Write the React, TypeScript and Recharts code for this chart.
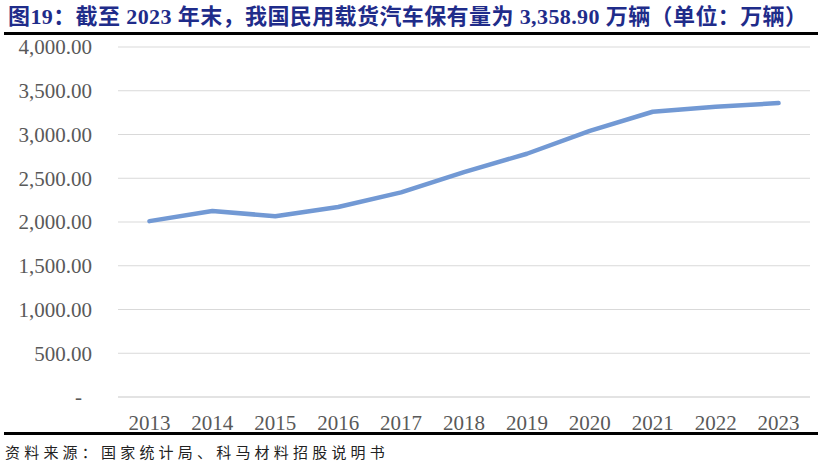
import { LineChart, Line, XAxis, YAxis, CartesianGrid } from 'recharts';

const years = ['2013', '2014', '2015', '2016', '2017', '2018', '2019', '2020', '2021', '2022', '2023'];
const trucks = [2010.0, 2125.5, 2066.0, 2172.0, 2338.5, 2570.0, 2780.0, 3042.0, 3260.0, 3318.0, 3358.9];
const yTicks = [0, 500, 1000, 1500, 2000, 2500, 3000, 3500, 4000];

const TITLE = '图19：截至 2023 年末，我国民用载货汽车保有量为 3,358.90 万辆（单位：万辆）';
const SOURCE = '资料来源：国家统计局、科马材料招股说明书';

const data = years.map((year, i) => ({ year, value: trucks[i] }));

const LABEL_FONT = '"Liberation Serif", "Times New Roman", serif';

function YTick(props: any) {
  const { x, y, payload } = props;
  const v = payload.value as number;
  const label = v === 0 ? '-' : v.toLocaleString('en-US', { minimumFractionDigits: 2, maximumFractionDigits: 2 });
  return (
    <text
      x={v === 0 ? x - 10 : x}
      y={y}
      dy="0.35em"
      textAnchor="end"
      fill="#595959"
      fontSize={21}
      fontFamily={LABEL_FONT}
    >
      {label}
    </text>
  );
}

export default function App() {
  return (
    <div style={{ position: 'relative', width: 826, height: 472, background: '#fff', overflow: 'hidden' }}>
      <style>{'body{margin:0}'}</style>
      {/* titre */}
      <div
        style={{
          position: 'absolute',
          left: 8,
          top: 6,
          fontSize: 22,
          lineHeight: '22px',
          fontWeight: 'bold',
          letterSpacing: 0.4,
          color: '#1f2c8a',
          fontFamily: '"Liberation Serif", "Noto Sans CJK SC", serif',
          whiteSpace: 'nowrap',
        }}
      >
        {TITLE}
      </div>
      <div style={{ position: 'absolute', left: 4, top: 32, width: 814, height: 2.5, background: '#000' }} />

      <div style={{ position: 'absolute', left: 0, top: 0 }}>
        <LineChart width={826} height={442} data={data} margin={{ top: 47, right: 16, left: 0, bottom: 9 }}>
          <CartesianGrid vertical={false} stroke="#d9d9d9" strokeWidth={1.2} />
          <XAxis
            dataKey="year"
            scale="band"
            height={36}
            tickLine={false}
            axisLine={{ stroke: '#d9d9d9', strokeWidth: 1.2 }}
            tickMargin={12}
            tick={{ fill: '#595959', fontSize: 21, fontFamily: LABEL_FONT }}
            interval={0}
          />
          <YAxis
            width={118}
            domain={[0, 4000]}
            ticks={yTicks}
            axisLine={false}
            tickLine={false}
            tickMargin={20}
            tick={<YTick />}
            interval={0}
          />
          <Line
            type="linear"
            dataKey="value"
            stroke="#7299d4"
            strokeWidth={4.5}
            strokeLinecap="round"
            strokeLinejoin="round"
            dot={false}
            isAnimationActive={false}
          />
        </LineChart>
      </div>

      <div style={{ position: 'absolute', left: 4, top: 432, width: 814, height: 2.5, background: '#000' }} />
      {/* source */}
      <div
        style={{
          position: 'absolute',
          left: 5,
          top: 443,
          fontSize: 15,
          lineHeight: '18px',
          letterSpacing: 4.2,
          color: '#222',
          fontFamily: '"Noto Sans CJK SC", sans-serif',
          whiteSpace: 'nowrap',
        }}
      >
        {SOURCE}
      </div>
    </div>
  );
}
